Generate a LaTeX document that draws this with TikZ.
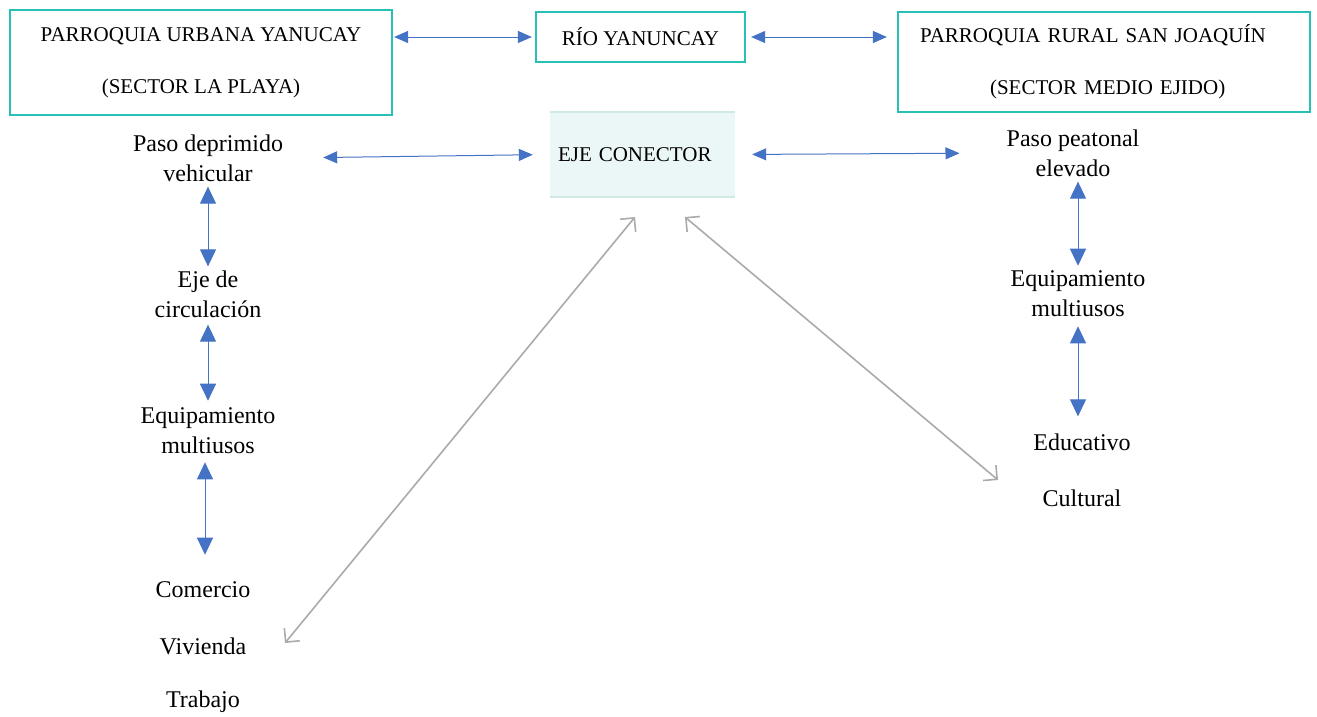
\documentclass[tikz,border=0pt]{standalone}
\usepackage{fontspec}
\setmainfont{Liberation Serif}
\usepackage{tikz}
\usetikzlibrary{arrows.meta}
\usetikzlibrary{positioning, calc}
\definecolor{cajaborde}{RGB}{40,192,182}
\definecolor{flechaazul}{RGB}{68,114,196}
\definecolor{flechagris}{RGB}{170,170,170}
\definecolor{ejefondo}{RGB}{235,247,246}
\definecolor{ejeborde}{RGB}{208,233,229}

\begin{document}
\begin{tikzpicture}[
    x=1pt, y=-1pt,
    every node/.style={font=\fontsize{21}{30}\selectfont},
    caja/.style={draw=cajaborde, line width=2.2pt, inner sep=0pt},
    texto/.style={align=center, inner sep=3pt, font=\fontsize{24}{30}\selectfont},
    flechah/.style={flechaazul, line width=1pt, {Triangle[width=12pt,length=14pt]}-{Triangle[width=12pt,length=14pt]}},
    flechav/.style={flechaazul, line width=1pt, {Triangle[width=16pt,length=17pt]}-{Triangle[width=16pt,length=17pt]}},
    flechag/.style={flechagris, line width=1.6pt, {Straight Barb[width=20pt,length=10pt]}-{Straight Barb[width=20pt,length=10pt]}}
]
\useasboundingbox (0,0) rectangle (1317,716);

% Top boxes
\node[caja, minimum width=382pt, minimum height=105pt, align=center] (urbana) at (201,62.5)
    {PARROQUIA URBANA YANUCAY\\[22pt](SECTOR LA PLAYA)};
\node[caja, minimum width=209pt, minimum height=50pt] (rio) at (640.5,37) {RÍO YANUNCAY};
\node[caja, text width=368pt, inner xsep=22pt, minimum height=100pt, align=left] (rural) at (1104,62)
    {PARROQUIA RURAL SAN JOAQUÍN\\[22pt]\hspace*{70pt}(SECTOR MEDIO EJIDO)};

% Central node
\node[fill=ejefondo, text width=169pt, inner xsep=8pt, minimum height=85pt, align=left] (eje) at (642.5,154.5) {EJE CONECTOR};
\draw[ejeborde, line width=2pt] (eje.north west) -- (eje.north east);
\draw[ejeborde, line width=2pt] (eje.south west) -- (eje.south east);

% Left column
\node[texto] (pasodep) at (208,158) {Paso deprimido\\vehicular};
\node[texto] (circ) at (208,294) {Eje de\\circulación};
\node[texto] (equipizq) at (208,431) {Equipamiento\\multiusos};
\node[texto] (comercio) at (203,590) {Comercio};
\node[texto] (vivienda) at (203,646) {Vivienda};
\node[texto] (trabajo) at (203,702) {Trabajo};

% Right column
\node[texto] (pasopeat) at (1073,153) {Paso peatonal\\elevado};
\node[texto] (equipder) at (1078,294) {Equipamiento\\multiusos};
\node[texto] (educativo) at (1082,442) {Educativo};
\node[texto] (cultural) at (1082,498) {Cultural};

% Free ends of the grey connectors
\coordinate (gizq) at (285,643);
\coordinate (gejeizq) at (635,217);
\coordinate (gejeder) at (685,217);
\coordinate (gder) at (998,480);

% Connectors
\draw[flechah, shorten <=1pt, shorten >=3pt] (urbana.east |- rio) -- (rio.west);
\draw[flechah, shorten <=5pt, shorten >=10pt] (rio.east) -- (rural.west |- rio);
\draw[flechah, shorten <=37pt, shorten >=17pt] (pasodep.east) -- (eje.west);
\draw[flechah, shorten <=17pt, shorten >=44pt] (eje.east) -- (pasopeat.west);

\draw[flechav, shorten <=2pt, shorten >=1pt] (pasodep) -- (circ);
\draw[flechav, shorten <=4pt, shorten >=4pt] (circ) -- (equipizq);
\draw[flechav, shorten <=5pt, shorten >=24pt] ($(equipizq.south)+(-3,0)$) -- ($(comercio.north)+(2,0)$);
\draw[flechav, shorten <=2pt, shorten >=2pt] (pasopeat.south -| equipder) -- (equipder);
\draw[flechav, shorten <=6pt, shorten >=14pt] (equipder.south) -- (equipder.south |- educativo.north);

\draw[flechag] (gizq) -- (gejeizq);
\draw[flechag] (gejeder) -- (gder);

\end{tikzpicture}
\end{document}
